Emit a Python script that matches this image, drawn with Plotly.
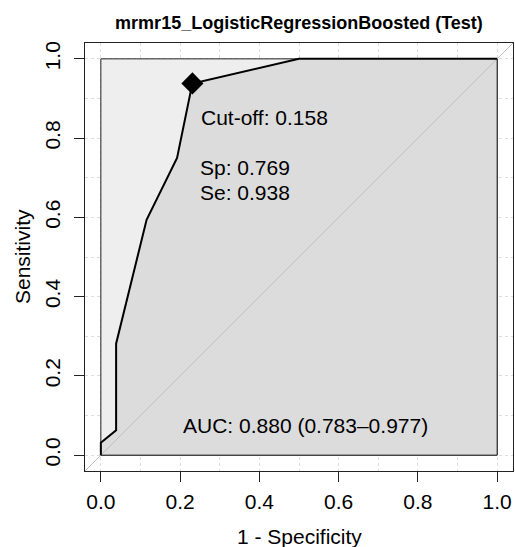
import plotly.graph_objects as go

# ROC curve of the test set (x = 1 - specificity, y = sensitivity)
fpr = [0.0, 0.0, 0.0385, 0.0385, 0.1154, 0.1923, 0.2308, 0.5, 1.0]
tpr = [0.0, 0.03125, 0.0625, 0.28125, 0.59375, 0.75, 0.9375, 1.0, 1.0]

# best threshold
cutoff = 0.158
best_sp = 0.769
best_se = 0.938

auc = 0.880
auc_ci = (0.783, 0.977)

tick_vals = [0.0, 0.2, 0.4, 0.6, 0.8, 1.0]
tick_text = ["0.0", "0.2", "0.4", "0.6", "0.8", "1.0"]
rng = [-0.04, 1.04]

font = "Liberation Sans, Arial, sans-serif"

W, H = 515, 547

fig = go.Figure()

# max AUC square
fig.add_trace(go.Scatter(
    x=[0, 1, 1, 0, 0], y=[0, 0, 1, 1, 0],
    mode="lines", fill="toself", fillcolor="#EEEEEE",
    line=dict(color="#222222", width=1), hoverinfo="skip", showlegend=False
))

# AUC polygon under the curve
fig.add_trace(go.Scatter(
    x=fpr + [1, 0], y=tpr + [0, 0],
    mode="lines", fill="toself", fillcolor="#DCDCDC",
    line=dict(width=0), hoverinfo="skip", showlegend=False
))

# the box edges again on top of the polygon
fig.add_trace(go.Scatter(
    x=[0, 1, 1], y=[0, 0, 1],
    mode="lines", line=dict(color="#222222", width=1),
    hoverinfo="skip", showlegend=False
))

# chance diagonal
fig.add_trace(go.Scatter(
    x=rng, y=rng, mode="lines",
    line=dict(color="#BEBEBE", width=1),
    hoverinfo="skip", showlegend=False
))

# ROC curve
fig.add_trace(go.Scatter(
    x=fpr, y=tpr, mode="lines",
    line=dict(color="black", width=2),
    showlegend=False
))

# threshold point
fig.add_trace(go.Scatter(
    x=[1 - best_sp], y=[best_se], mode="markers",
    marker=dict(symbol="diamond", size=17, color="black"),
    showlegend=False
))

txt = dict(color="black", size=21, family=font)
fig.add_annotation(x=0.248, y=0.853, text="Cut-off: %.3f" % cutoff,
                   xanchor="left", yanchor="middle", showarrow=False, font=txt)
fig.add_annotation(x=0.245, y=0.725, text="Sp: %.3f" % best_sp,
                   xanchor="left", yanchor="middle", showarrow=False, font=txt)
fig.add_annotation(x=0.245, y=0.662, text="Se: %.3f" % best_se,
                   xanchor="left", yanchor="middle", showarrow=False, font=txt)
fig.add_annotation(x=0.2015, y=0.074,
                   text="AUC: %.3f (%.3f\u2013%.3f)" % (auc, auc_ci[0], auc_ci[1]),
                   xanchor="left", yanchor="middle", showarrow=False, font=txt)

# axis titles
fig.add_annotation(x=0.5, y=0, xref="paper", yref="paper", yshift=-65,
                   text="1 - Specificity", showarrow=False,
                   xanchor="center", yanchor="middle", font=txt)
fig.add_annotation(x=0, y=0.5, xref="paper", yref="paper", xshift=-63,
                   text="Sensitivity", textangle=-90, showarrow=False,
                   xanchor="center", yanchor="middle", font=txt)

axis_common = dict(
    range=rng, tickvals=tick_vals, ticktext=tick_text,
    showline=True, linecolor="#222222", linewidth=1, mirror=True,
    ticks="outside", ticklen=10, tickcolor="#222222", tickwidth=1,
    showgrid=True, gridcolor="#DDDDDD", griddash="dot", gridwidth=1,
    minor=dict(dtick=0.1, tick0=0, showgrid=True, gridcolor="#DDDDDD",
               griddash="dot", ticks=""),
    zeroline=False, automargin=False,
    tickfont=dict(size=21, color="black", family=font),
)

fig.update_xaxes(**axis_common, ticklabelstandoff=2)
fig.update_yaxes(**axis_common, tickangle=-90, ticklabelstandoff=6)

fig.update_layout(
    width=W, height=H,
    margin=dict(l=85, r=2, t=43, b=76),
    plot_bgcolor="white", paper_bgcolor="white",
    title=dict(text="<b>mrmr15_LogisticRegressionBoosted (Test)</b>",
               x=0.5, xref="paper", y=1 - 23 / H, yref="container",
               xanchor="center", yanchor="middle",
               font=dict(size=18, color="black", family=font)),
)

# drop the default body margin so the figure fills the window exactly
fig.write_html("out.html",
               config={"displayModeBar": False},
               post_script="document.body.style.margin='0';"
                           "document.body.style.overflow='hidden';")
